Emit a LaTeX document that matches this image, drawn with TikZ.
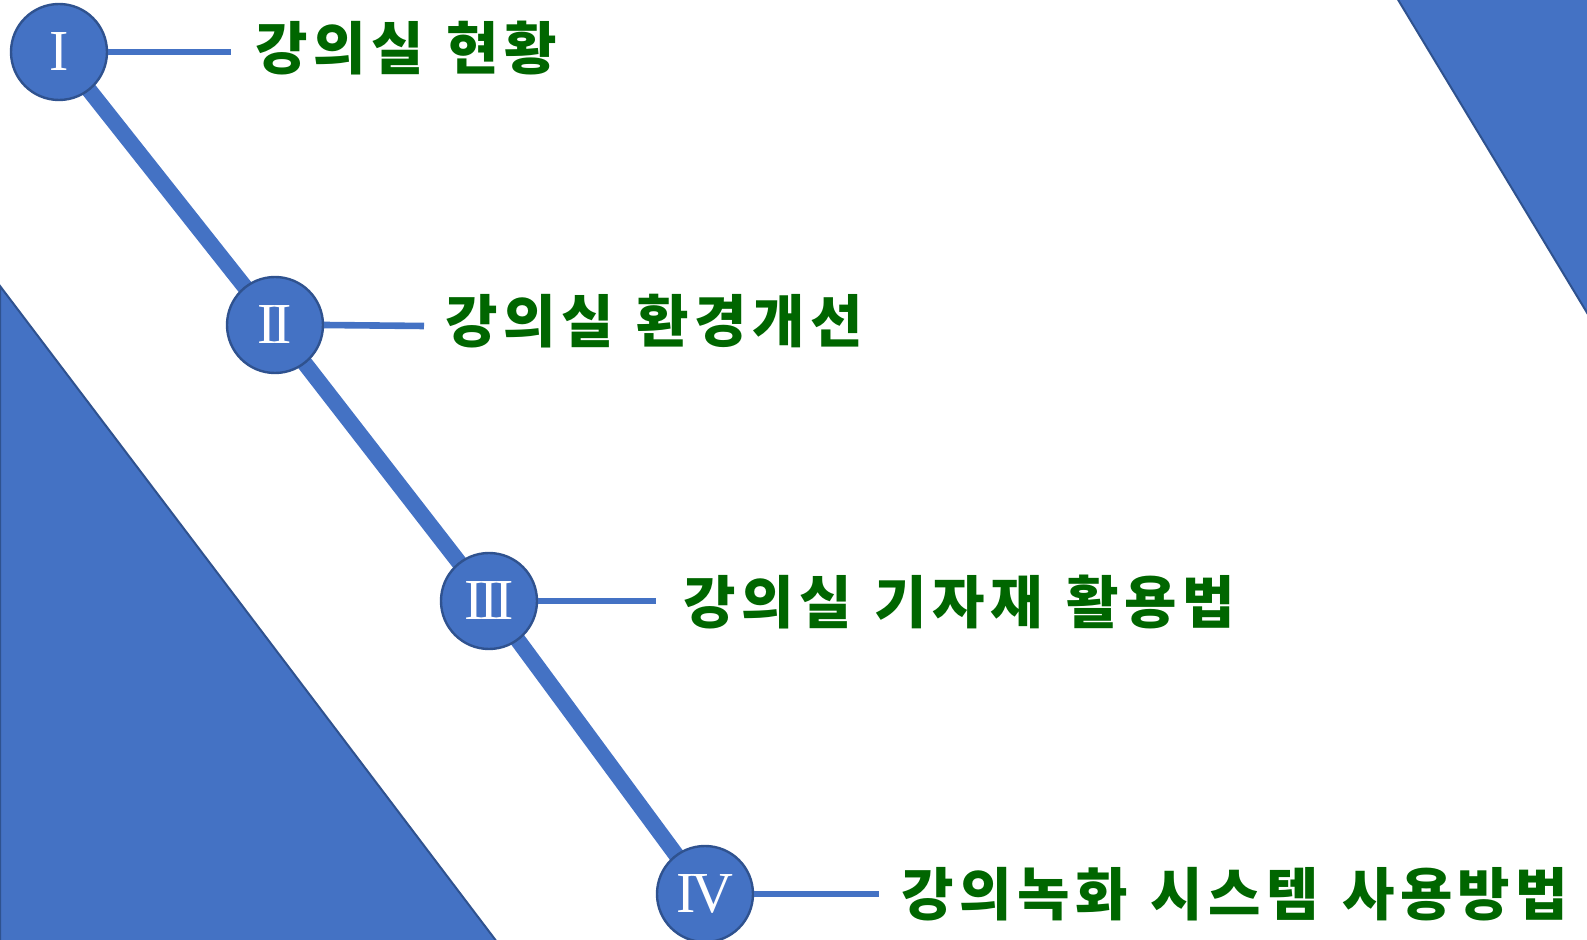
\documentclass[tikz,border=0pt]{standalone}
\usepackage{fontspec}
\newfontfamily\kr{Noto Sans CJK KR}[LetterSpace=9.6,WordSpace=1.25]
\newfontfamily\romfont{Liberation Serif}
\definecolor{mblue}{HTML}{4472C4}
\definecolor{dblue}{HTML}{2F528F}
\definecolor{tgreen}{HTML}{006600}
\begin{document}
\begin{tikzpicture}[x=0.5pt,y=-0.5pt,
  numc/.style={circle,fill=mblue,draw=dblue,line width=1.2pt,minimum size=48pt,inner sep=0pt,
    text=white,font=\romfont\fontsize{29}{29}\selectfont},
  title/.style={anchor=west,inner sep=0pt,text=tgreen,font=\kr\bfseries\fontsize{28.5}{30}\selectfont},
  spine/.style={draw=mblue,line width=8pt},
  hline/.style={draw=mblue,line width=3.3pt},
  tri/.style={fill=mblue,draw=dblue,line width=1pt}]
\useasboundingbox (0,0) rectangle (1587,940);
% background triangles
\filldraw[tri] (0,286) -- (497,942) -- (0,942) -- cycle;
\filldraw[tri] (1397,-2) -- (1589,-2) -- (1589,316) -- cycle;
% circle positions
\coordinate (p1) at (59,52);
\coordinate (p2) at (275,325);
\coordinate (p3) at (489,601);
\coordinate (p4) at (705,894);
\draw[spine] (p1) -- (p2) -- (p3) -- (p4);
\node[numc] (c1) at (p1) {I};
\node[numc] (c2) at (p2) {I\kern-0.07em I};
\node[numc] (c3) at (p3) {I\kern-0.07em I\kern-0.07em I};
\node[numc] (c4) at (p4) {I\kern-0.08em V};
% connector ends
\coordinate (e1) at (231,52);
\coordinate (e2) at (424,326);
\coordinate (e3) at (656,601);
\coordinate (e4) at (879,894);
\draw[hline] (c1.east) -- (e1);
\draw[hline] (c2.east) -- (e2);
\draw[hline] (c3.east) -- (e3);
\draw[hline] (c4.east) -- (e4);
% titles
\node[title] (t1) at (255,48) {강의실 현황};
\node[title] (t2) at (445,321) {강의실 환경개선};
\node[title] (t3) at (683,602) {강의실 기자재 활용법};
\node[title] (t4) at (901,894) {강의녹화 시스템 사용방법};
\end{tikzpicture}
\end{document}
